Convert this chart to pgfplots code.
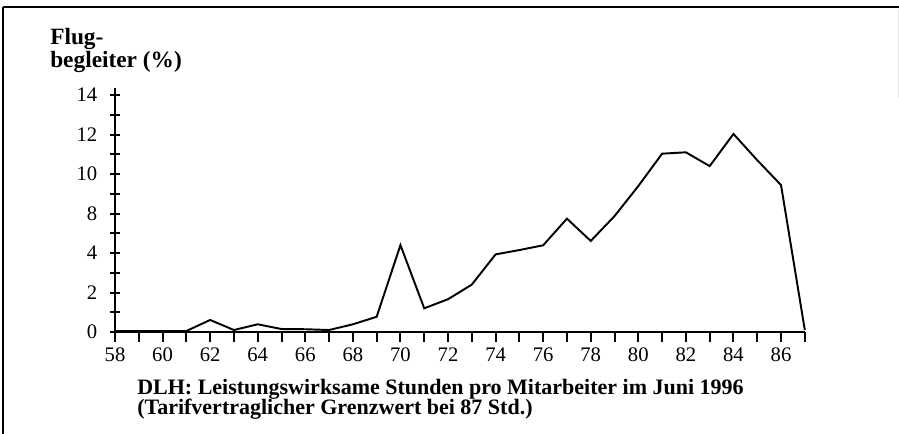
\documentclass[border=0pt]{standalone}
\usepackage{fontspec}
\setmainfont{Liberation Serif}
\usepackage{pgfplots}
\pgfplotsset{compat=1.18}
\begin{document}
\begin{tikzpicture}
\path[use as bounding box] (0,0) rectangle (674.25pt,325.5pt);
\draw[line width=1.5pt] (2.25pt,320.25pt) -- (674.25pt,320.25pt);
\draw[line width=1.1pt] (2.25pt,320.25pt) -- (2.25pt,0pt);
\draw[line width=0.5pt, black!10] (673.5pt,318pt) -- (673.5pt,252pt);
\begin{axis}[
  at={(86.25pt,76.5pt)}, anchor=south west,
  x=17.84pt, y=14.81pt,
  xmin=58, xmax=87, ymin=0, ymax=12.35,
  axis lines*=left,
  axis line style={line width=1.5pt, -},
  tick align=center,
  major tick length=7.5pt,
  every tick/.style={line width=1.5pt, black},
  x tick style={yshift=-3.75pt},
  xtick={58,...,87},
  xticklabels={58,,60,,62,,64,,66,,68,,70,,72,,74,,76,,78,,80,,82,,84,,86,},
  ytick={0,...,12},
  yticklabels={0,,2,,4,,8,,10,,12,,14},
  tick label style={font=\fontsize{15.5}{15.5}\selectfont},
  x tick label style={yshift=-4.5pt},
  y tick label style={xshift=-6pt},
  /pgf/number format/assume math mode=true,
  clip=false,
]
\addplot[black, line width=1.45pt] coordinates {
(58,0.05) (59,0.05) (60,0.05) (61,0.05) (62,0.61) (63,0.1) (64,0.39) (65,0.15)
(66,0.14) (67,0.1) (68,0.39) (69,0.77) (70,4.4) (71,1.2) (72,1.66) (73,2.4)
(74,3.93) (75,4.15) (76,4.39) (77,5.74) (78,4.61) (79,5.87) (80,7.39) (81,9.03)
(82,9.1) (83,8.4) (84,10.03) (85,8.7) (86,7.44) (87,0.1)
};
\end{axis}
\node[anchor=base west, inner sep=0, font=\bfseries\fontsize{17.5}{17.5}\selectfont] at (37.5pt,291.75pt) {Flug-};
\node[anchor=base west, inner sep=0, font=\bfseries\fontsize{17.5}{17.5}\selectfont] at (37.5pt,274.5pt) {begleiter (\%)};
\node[anchor=base west, inner sep=0, font=\bfseries\fontsize{16.5}{16.5}\selectfont] at (102.75pt,29.25pt) {DLH: Leistungswirksame Stunden pro Mitarbeiter im Juni 1996};
\node[anchor=base west, inner sep=0, font=\bfseries\fontsize{16.5}{16.5}\selectfont] at (102.75pt,14.25pt) {(Tarifvertraglicher Grenzwert bei 87 Std.)};
\end{tikzpicture}
\end{document}
